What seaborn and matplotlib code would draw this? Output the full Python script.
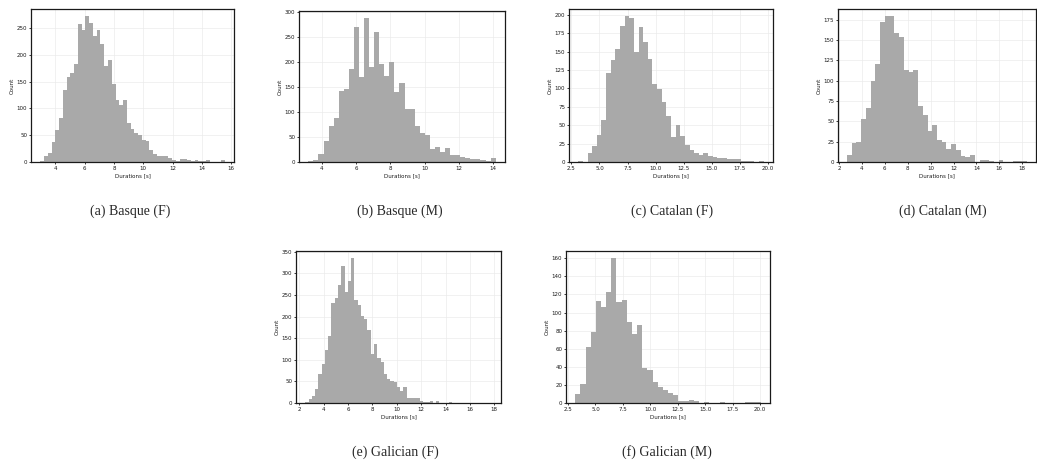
import numpy as np
import pandas as pd
import matplotlib
matplotlib.use("Agg")
import matplotlib.pyplot as plt
from matplotlib.ticker import MultipleLocator
import seaborn as sns

# Duration histograms: first bin edge [s], bin width [s], counts
basque_f_start = 2.98
basque_f_width = 0.2566
basque_f_counts = [2, 12, 16, 38, 60, 82, 135, 158, 167, 183, 258, 246, 272, 260, 236, 246,
                   220, 180, 190, 146, 115, 106, 115, 73, 62, 55, 50, 41, 40, 22, 15, 11, 12,
                   12, 7, 4, 1, 5, 5, 3, 1, 3, 1, 1, 3, 0, 0, 0, 3]

basque_m_start = 3.225
basque_m_width = 0.295
basque_m_counts = [2, 4, 15, 41, 72, 87, 142, 146, 186, 269, 170, 287, 190, 260, 196, 172,
                   200, 140, 157, 105, 105, 72, 58, 54, 25, 29, 19, 27, 13, 13, 9, 7, 5, 5,
                   4, 1, 7]

catalan_f_start = 3.115
catalan_f_width = 0.4128
catalan_f_counts = [1, 0, 12, 22, 37, 57, 121, 139, 154, 185, 198, 196, 149, 184, 163, 140,
                    106, 99, 81, 62, 34, 50, 35, 23, 16, 12, 10, 12, 8, 7, 5, 5, 4, 4, 4, 2,
                    1, 1, 0, 2]

catalan_m_start = 2.696
catalan_m_width = 0.4138
catalan_m_counts = [9, 23, 25, 53, 66, 100, 121, 172, 179, 179, 158, 154, 113, 111, 113, 69,
                    58, 38, 46, 27, 25, 16, 22, 15, 7, 6, 8, 0, 3, 2, 1, 0, 2, 0, 0, 1, 1, 1]

galician_f_start = 2.495
galician_f_width = 0.2683
galician_f_counts = [2, 9, 17, 33, 66, 91, 123, 156, 231, 244, 272, 318, 257, 282, 335, 239,
                     226, 202, 195, 170, 113, 137, 105, 95, 67, 55, 50, 48, 38, 28, 38, 11,
                     11, 12, 12, 4, 3, 2, 4, 1, 4, 1, 0, 0, 2, 0, 1, 0, 0, 1, 0, 0, 0, 0, 1,
                     0, 1]

galician_m_start = 3.165
galician_m_width = 0.469
galician_m_counts = [10, 21, 62, 79, 113, 106, 123, 160, 112, 114, 89, 76, 86, 39, 37, 23, 18,
                     14, 11, 9, 2, 2, 3, 2, 0, 1, 0, 0, 1, 0, 0, 0, 0, 1, 1, 1]

captions = ["(a) Basque (F)", "(b) Basque (M)", "(c) Catalan (F)",
            "(d) Catalan (M)", "(e) Galician (F)", "(f) Galician (M)"]

panels = [
    (basque_f_start, basque_f_width, basque_f_counts),
    (basque_m_start, basque_m_width, basque_m_counts),
    (catalan_f_start, catalan_f_width, catalan_f_counts),
    (catalan_m_start, catalan_m_width, catalan_m_counts),
    (galician_f_start, galician_f_width, galician_f_counts),
    (galician_m_start, galician_m_width, galician_m_counts),
]

# Layout (pixel boxes: left, top, right, bottom) and tick steps
W, H = 1037, 463
boxes = [(31, 9, 234, 162), (299, 11, 505, 162), (569, 9, 773, 162),
         (838, 9, 1036, 162), (296, 251, 501, 403), (566, 251, 770, 403)]
caption_xy = [(130, 211), (400, 211), (672, 211), (943, 211), (395, 452), (667, 452)]
x_steps = [2, 2, 2.5, 2, 2, 2.5]
y_steps = [50, 50, 25, 25, 50, 20]

sns.set_theme(style="whitegrid", rc={
    "axes.edgecolor": "#1a1a1a",
    "axes.linewidth": 0.9,
    "grid.color": "#ebebeb",
    "grid.linewidth": 0.5,
    "xtick.bottom": True,
    "ytick.left": True,
    "xtick.major.size": 1.5,
    "ytick.major.size": 1.5,
    "xtick.major.width": 0.6,
    "ytick.major.width": 0.6,
    "xtick.color": "#1a1a1a",
    "ytick.color": "#1a1a1a",
    "axes.labelcolor": "#1a1a1a",
    "xtick.labelsize": 4,
    "ytick.labelsize": 4,
    "axes.labelsize": 4,
    "xtick.major.pad": 1.2,
    "ytick.major.pad": 1.2,
    "axes.labelpad": 1.5,
})
plt.rcParams["font.family"] = ["DejaVu Sans"]

fig = plt.figure(figsize=(W / 100, H / 100), dpi=100)

for i, (start, width, counts) in enumerate(panels):
    l, t, r, b = boxes[i]
    ax = fig.add_axes([l / W, 1 - b / H, (r - l) / W, (b - t) / H])
    edges = start + width * np.arange(len(counts) + 1)
    df = pd.DataFrame({"dur": edges[:-1] + width / 2, "n": counts})
    sns.histplot(data=df, x="dur", weights="n", bins=edges.tolist(), ax=ax,
                 color="#a9a9a9", alpha=1, linewidth=0)
    ax.xaxis.set_major_locator(MultipleLocator(x_steps[i]))
    ax.yaxis.set_major_locator(MultipleLocator(y_steps[i]))
    ax.set_xlabel("Durations [s]")
    ax.set_ylabel("Count")
    for s in ax.spines.values():
        s.set_visible(True)

    cx, cy = caption_xy[i]
    fig.text(cx / W, 1 - cy / H, captions[i], ha="center", va="center",
             fontsize=10, family=["Liberation Serif", "DejaVu Serif"])

fig.savefig("out.png", dpi=100)
